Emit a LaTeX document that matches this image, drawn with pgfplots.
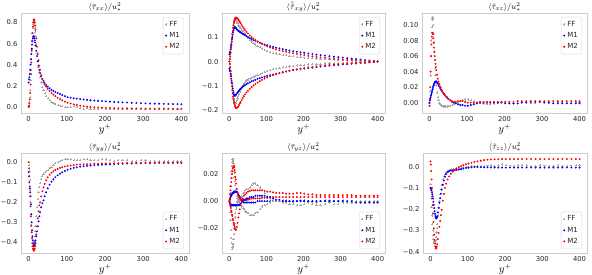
\documentclass[border=0pt]{standalone}
\usepackage{fontspec}
\setmainfont{DejaVu Sans}
\usepackage{pgfplots}
\usepackage{pgfplotstable}
\pgfplotsset{compat=1.18}

\pgfplotstableread{
y ff m1 m2
0 0.00 0.23 0.00
1 0.01 0.26 0.01
2 0.04 0.28 0.03
3 0.09 0.31 0.07
4 0.16 0.35 0.13
5 0.25 0.40 0.21
6 0.35 0.45 0.31
7 0.45 0.50 0.42
8 0.55 0.55 0.53
9 0.63 0.59 0.62
10 0.70 0.62 0.70
11 0.75 0.65 0.76
12 0.78 0.665 0.80
13 0.80 0.67 0.825
14 0.80 0.665 0.83
15 0.78 0.65 0.82
16 0.75 0.63 0.80
17 0.71 0.61 0.77
18 0.67 0.58 0.73
20 0.59 0.53 0.65
22 0.51 0.48 0.57
24 0.44 0.43 0.50
26 0.38 0.39 0.44
28 0.33 0.35 0.39
30 0.28 0.32 0.35
33 0.23 0.29 0.30
36 0.19 0.265 0.26
39 0.16 0.245 0.23
42 0.13 0.225 0.21
46 0.10 0.205 0.19
50 0.08 0.19 0.17
55 0.06 0.175 0.15
60 0.045 0.16 0.13
65 0.035 0.15 0.115
70 0.025 0.14 0.10
76 0.015 0.13 0.085
82 0.01 0.12 0.072
88 0.005 0.11 0.06
95 0.0 0.10 0.048
102 -0.005 0.09 0.038
110 0.0 0.085 0.03
118 0.005 0.08 0.022
126 -0.005 0.076 0.016
135 -0.015 0.072 0.01
144 -0.02 0.068 0.005
153 -0.015 0.064 0.0
162 -0.02 0.061 -0.003
172 -0.025 0.058 -0.006
182 -0.02 0.055 -0.008
192 -0.015 0.053 -0.01
202 -0.02 0.05 -0.012
213 -0.025 0.047 -0.013
224 -0.02 0.045 -0.014
235 -0.02 0.043 -0.015
246 -0.025 0.041 -0.016
258 -0.02 0.039 -0.016
270 -0.02 0.037 -0.017
282 -0.025 0.035 -0.017
294 -0.02 0.033 -0.018
306 -0.02 0.031 -0.018
318 -0.02 0.03 -0.018
330 -0.02 0.029 -0.019
342 -0.02 0.028 -0.019
354 -0.02 0.027 -0.019
366 -0.02 0.026 -0.02
378 -0.02 0.025 -0.02
390 -0.02 0.024 -0.02
400 -0.02 0.023 -0.02
}\tA

\pgfplotstableread{
y ffa m1a m2a ffb m1b m2b
0 0.000 0.030 0.000 0.000 -0.030 0.000
1 0.010 0.035 0.010 -0.010 -0.035 -0.010
2 0.025 0.040 0.020 -0.025 -0.040 -0.022
3 0.040 0.050 0.035 -0.040 -0.050 -0.038
4 0.055 0.060 0.050 -0.055 -0.060 -0.054
5 0.070 0.070 0.065 -0.070 -0.070 -0.070
6 0.085 0.080 0.080 -0.086 -0.080 -0.086
7 0.100 0.090 0.095 -0.102 -0.090 -0.102
8 0.115 0.100 0.110 -0.117 -0.100 -0.117
9 0.130 0.110 0.125 -0.130 -0.110 -0.131
10 0.140 0.120 0.138 -0.141 -0.120 -0.144
11 0.150 0.128 0.149 -0.150 -0.128 -0.155
12 0.160 0.134 0.158 -0.158 -0.134 -0.164
13 0.165 0.138 0.165 -0.164 -0.138 -0.171
14 0.170 0.140 0.171 -0.168 -0.140 -0.177
15 0.172 0.141 0.175 -0.170 -0.140 -0.182
16 0.172 0.140 0.178 -0.170 -0.139 -0.186
17 0.170 0.138 0.180 -0.168 -0.137 -0.189
18 0.168 0.136 0.180 -0.165 -0.135 -0.190
20 0.163 0.132 0.179 -0.158 -0.131 -0.190
22 0.157 0.129 0.176 -0.150 -0.127 -0.188
24 0.151 0.126 0.172 -0.141 -0.123 -0.184
26 0.146 0.124 0.167 -0.132 -0.119 -0.178
28 0.141 0.122 0.162 -0.123 -0.115 -0.172
30 0.136 0.120 0.157 -0.115 -0.112 -0.166
33 0.130 0.117 0.150 -0.105 -0.108 -0.158
36 0.124 0.114 0.143 -0.097 -0.104 -0.150
39 0.118 0.111 0.136 -0.090 -0.100 -0.142
42 0.112 0.108 0.130 -0.084 -0.097 -0.135
46 0.104 0.104 0.122 -0.078 -0.093 -0.127
50 0.097 0.100 0.115 -0.074 -0.089 -0.120
55 0.089 0.096 0.107 -0.070 -0.085 -0.112
60 0.082 0.092 0.100 -0.066 -0.081 -0.105
65 0.076 0.088 0.094 -0.062 -0.078 -0.098
70 0.070 0.085 0.088 -0.058 -0.075 -0.092
76 0.064 0.081 0.082 -0.054 -0.071 -0.086
82 0.058 0.077 0.077 -0.050 -0.068 -0.080
88 0.053 0.074 0.072 -0.046 -0.065 -0.075
95 0.048 0.070 0.067 -0.042 -0.062 -0.070
102 0.044 0.067 0.062 -0.038 -0.059 -0.065
110 0.040 0.063 0.058 -0.035 -0.056 -0.060
118 0.036 0.060 0.054 -0.032 -0.053 -0.056
126 0.033 0.057 0.050 -0.029 -0.050 -0.052
135 0.030 0.054 0.046 -0.026 -0.047 -0.048
144 0.028 0.051 0.043 -0.024 -0.044 -0.044
153 0.026 0.048 0.040 -0.022 -0.041 -0.041
162 0.024 0.045 0.037 -0.020 -0.038 -0.038
172 0.022 0.042 0.034 -0.018 -0.035 -0.035
182 0.020 0.040 0.031 -0.016 -0.033 -0.032
192 0.018 0.038 0.028 -0.015 -0.031 -0.029
202 0.016 0.036 0.026 -0.013 -0.029 -0.027
213 0.015 0.033 0.023 -0.012 -0.027 -0.024
224 0.013 0.031 0.021 -0.011 -0.025 -0.022
235 0.012 0.028 0.019 -0.010 -0.023 -0.020
246 0.011 0.026 0.017 -0.009 -0.021 -0.018
258 0.010 0.024 0.015 -0.008 -0.019 -0.016
270 0.009 0.022 0.013 -0.007 -0.017 -0.014
282 0.008 0.020 0.011 -0.006 -0.015 -0.012
294 0.007 0.018 0.010 -0.005 -0.014 -0.011
306 0.006 0.016 0.008 -0.005 -0.012 -0.009
318 0.005 0.014 0.007 -0.004 -0.011 -0.008
330 0.004 0.012 0.006 -0.003 -0.009 -0.007
342 0.003 0.010 0.005 -0.003 -0.008 -0.006
354 0.002 0.008 0.004 -0.002 -0.006 -0.005
366 0.002 0.006 0.003 -0.002 -0.005 -0.004
378 0.001 0.004 0.002 -0.001 -0.003 -0.003
390 0.001 0.002 0.001 -0.001 -0.002 -0.002
400 0.000 0.000 0.000 0.000 0.000 0.000
}\tB

\pgfplotstableread{
y ff m1 m2
0 0.000 0.000 -0.004
1 0.005 0.003 0.005
2 0.015 0.005 0.020
3 0.035 0.007 0.040
4 0.060 0.009 0.060
5 0.080 0.011 0.075
6 0.097 0.013 0.085
7 0.107 0.015 0.090
8 0.110 0.017 0.090
9 0.108 0.019 0.088
10 0.100 0.021 0.083
11 0.090 0.022 0.077
12 0.078 0.024 0.071
13 0.066 0.025 0.065
14 0.055 0.026 0.060
15 0.045 0.027 0.055
16 0.036 0.027 0.050
17 0.028 0.027 0.046
18 0.022 0.027 0.042
20 0.013 0.026 0.036
22 0.007 0.025 0.031
24 0.003 0.023 0.027
26 0.000 0.021 0.024
28 -0.002 0.019 0.021
30 -0.003 0.017 0.019
33 -0.004 0.015 0.016
36 -0.005 0.013 0.013
39 -0.005 0.011 0.011
42 -0.005 0.009 0.009
46 -0.005 0.007 0.007
50 -0.004 0.005 0.005
55 -0.004 0.003 0.003
60 -0.003 0.001 0.002
65 -0.002 0.000 0.001
70 0.000 -0.001 0.001
76 0.001 -0.002 0.002
82 0.002 -0.003 0.002
88 0.003 -0.003 0.002
95 0.004 -0.004 0.001
102 0.004 -0.004 0.000
110 0.003 -0.003 0.000
118 0.002 -0.002 0.000
126 0.001 -0.001 0.000
135 0.000 0.000 0.001
144 -0.001 0.000 0.001
153 -0.002 0.000 0.001
162 -0.002 0.000 0.001
172 -0.001 0.000 0.001
182 0.000 0.000 0.001
192 0.001 0.000 0.001
202 0.001 -0.001 0.001
213 0.000 -0.001 0.001
224 -0.001 -0.001 0.001
235 0.000 -0.001 0.002
246 0.001 0.000 0.002
258 0.001 0.000 0.002
270 0.000 0.001 0.002
282 0.000 0.001 0.002
294 0.001 0.001 0.002
306 0.001 0.000 0.002
318 0.000 0.000 0.002
330 0.000 -0.001 0.002
342 0.001 -0.001 0.002
354 0.001 -0.001 0.002
366 0.000 -0.001 0.002
378 0.000 -0.001 0.002
390 0.001 -0.001 0.002
400 0.001 -0.001 0.002
}\tC

\pgfplotstableread{
y ff m1 m2
0 0.000 -0.050 0.000
1 -0.015 -0.070 -0.030
2 -0.045 -0.100 -0.070
3 -0.090 -0.130 -0.120
4 -0.140 -0.150 -0.170
5 -0.200 -0.170 -0.220
6 -0.260 -0.210 -0.270
7 -0.320 -0.260 -0.315
8 -0.380 -0.300 -0.350
9 -0.405 -0.340 -0.380
10 -0.420 -0.370 -0.405
11 -0.430 -0.390 -0.420
12 -0.435 -0.405 -0.432
13 -0.430 -0.415 -0.440
14 -0.415 -0.420 -0.442
15 -0.395 -0.418 -0.440
16 -0.370 -0.410 -0.432
17 -0.345 -0.400 -0.420
18 -0.320 -0.390 -0.405
20 -0.270 -0.370 -0.360
22 -0.225 -0.345 -0.320
24 -0.185 -0.320 -0.280
26 -0.150 -0.295 -0.245
28 -0.125 -0.270 -0.215
30 -0.105 -0.250 -0.200
33 -0.085 -0.225 -0.170
36 -0.070 -0.205 -0.145
39 -0.058 -0.190 -0.125
42 -0.050 -0.170 -0.108
46 -0.043 -0.150 -0.090
50 -0.037 -0.130 -0.075
55 -0.030 -0.112 -0.062
60 -0.022 -0.097 -0.052
65 -0.013 -0.085 -0.044
70 -0.005 -0.075 -0.038
76 0.002 -0.065 -0.033
82 0.008 -0.057 -0.028
88 0.012 -0.050 -0.025
95 0.016 -0.043 -0.021
102 0.017 -0.037 -0.018
110 0.015 -0.032 -0.016
118 0.012 -0.028 -0.014
126 0.010 -0.025 -0.012
135 0.012 -0.022 -0.011
144 0.015 -0.020 -0.010
153 0.016 -0.018 -0.009
162 0.013 -0.016 -0.008
172 0.010 -0.014 -0.007
182 0.011 -0.013 -0.007
192 0.015 -0.012 -0.006
202 0.014 -0.011 -0.006
213 0.010 -0.010 -0.005
224 0.008 -0.009 -0.005
235 0.011 -0.008 -0.005
246 0.013 -0.007 -0.004
258 0.010 -0.006 -0.004
270 0.006 -0.006 -0.004
282 0.007 -0.005 -0.003
294 0.010 -0.005 -0.003
306 0.009 -0.004 -0.003
318 0.006 -0.004 -0.003
330 0.004 -0.004 -0.003
342 0.006 -0.003 -0.002
354 0.007 -0.003 -0.002
366 0.005 -0.003 -0.002
378 0.004 -0.003 -0.002
390 0.006 -0.003 -0.002
400 0.007 -0.003 -0.002
}\tD

\pgfplotstableread{
y ffa ffb m1a m1b m2a m2b
0 0.000 0.000 0.000 0.000 0.000 0.000
1 0.002 -0.003 0.001 -0.001 0.002 -0.001
2 0.006 -0.008 0.002 -0.002 0.005 -0.002
3 0.011 -0.014 0.003 -0.002 0.008 -0.004
4 0.017 -0.021 0.004 -0.003 0.011 -0.005
5 0.022 -0.027 0.004 -0.003 0.014 -0.007
6 0.026 -0.031 0.005 -0.003 0.017 -0.008
7 0.029 -0.034 0.005 -0.003 0.020 -0.010
8 0.031 -0.035 0.006 -0.003 0.022 -0.011
9 0.031 -0.034 0.006 -0.003 0.024 -0.013
10 0.030 -0.032 0.006 -0.003 0.025 -0.014
11 0.028 -0.028 0.006 -0.003 0.026 -0.016
12 0.025 -0.024 0.007 -0.003 0.026 -0.017
13 0.022 -0.020 0.007 -0.003 0.025 -0.018
14 0.018 -0.016 0.007 -0.003 0.023 -0.019
15 0.015 -0.012 0.007 -0.003 0.021 -0.020
16 0.012 -0.009 0.007 -0.003 0.018 -0.021
17 0.009 -0.006 0.007 -0.003 0.016 -0.021
18 0.007 -0.004 0.007 -0.003 0.013 -0.021
20 0.004 -0.001 0.007 -0.003 0.009 -0.019
22 0.002 0.000 0.006 -0.003 0.006 -0.016
24 0.001 0.000 0.005 -0.003 0.004 -0.012
26 0.001 -0.001 0.004 -0.003 0.003 -0.009
28 0.002 -0.002 0.003 -0.003 0.002 -0.006
30 0.003 -0.003 0.002 -0.002 0.001 -0.003
33 0.004 -0.004 0.001 -0.001 0.001 0.000
36 0.006 -0.005 0.000 0.000 0.001 0.002
39 0.007 -0.006 -0.001 0.001 0.001 0.004
42 0.008 -0.007 -0.001 0.001 0.001 0.005
46 0.009 -0.008 -0.001 0.002 0.001 0.006
50 0.009 -0.009 -0.001 0.002 0.001 0.007
55 0.010 -0.010 -0.001 0.003 0.0015 0.0075
60 0.012 -0.010 -0.001 0.003 0.002 0.008
65 0.013 -0.010 -0.001 0.003 0.002 0.008
70 0.013 -0.009 -0.001 0.004 0.002 0.008
76 0.012 -0.008 0.000 0.004 0.002 0.008
82 0.010 -0.006 0.000 0.004 0.002 0.008
88 0.008 -0.004 0.000 0.004 0.0025 0.008
95 0.006 -0.003 0.000 0.004 0.0025 0.0075
102 0.004 -0.002 0.000 0.003 0.0025 0.007
110 0.002 -0.001 0.000 0.003 0.003 0.007
118 0.001 0.000 0.000 0.002 0.003 0.0065
126 0.000 0.000 0.000 0.001 0.003 0.006
135 0.000 0.000 0.000 0.001 0.003 0.006
144 0.001 -0.001 0.000 0.000 0.003 0.006
153 0.001 -0.001 0.000 0.000 0.003 0.0055
162 0.000 -0.002 0.000 0.000 0.003 0.0055
172 -0.001 -0.002 0.000 0.000 0.003 0.0055
182 0.000 -0.003 0.000 0.000 0.003 0.006
192 0.001 -0.003 0.000 0.000 0.003 0.006
202 0.001 -0.002 0.000 0.000 0.003 0.0055
213 0.000 -0.001 0.000 0.000 0.003 0.005
224 -0.001 -0.002 0.000 0.000 0.003 0.005
235 -0.001 -0.003 0.000 0.000 0.003 0.0045
246 0.000 -0.003 0.000 0.000 0.003 0.0045
258 0.001 -0.002 0.000 0.000 0.003 0.0045
270 0.001 -0.001 0.000 0.000 0.003 0.0045
282 0.000 -0.002 0.000 0.000 0.003 0.0045
294 0.000 -0.002 0.000 0.000 0.003 0.0045
306 0.001 -0.001 0.000 0.000 0.003 0.0045
318 0.000 -0.001 -0.001 0.000 0.003 0.0045
330 0.000 -0.001 -0.001 0.000 0.003 0.0045
342 0.000 -0.001 -0.001 -0.001 0.003 0.004
354 0.000 -0.001 -0.001 -0.001 0.003 0.004
366 0.000 -0.001 -0.001 -0.001 0.003 0.004
378 0.000 -0.001 -0.001 -0.001 0.003 0.004
390 0.000 -0.001 -0.001 -0.001 0.003 0.004
400 0.000 -0.001 -0.001 -0.001 0.003 0.004
}\tE

\pgfplotstableread{
y ff m1 m2
0 -0.080 -0.100 0.025
1 -0.110 -0.100 0.010
2 -0.150 -0.105 -0.020
3 -0.190 -0.110 -0.060
4 -0.230 -0.120 -0.100
5 -0.270 -0.130 -0.140
6 -0.300 -0.140 -0.180
7 -0.320 -0.150 -0.220
8 -0.340 -0.165 -0.260
9 -0.350 -0.180 -0.290
10 -0.355 -0.195 -0.320
11 -0.360 -0.210 -0.345
12 -0.360 -0.222 -0.362
13 -0.355 -0.232 -0.375
14 -0.345 -0.238 -0.382
15 -0.330 -0.242 -0.385
16 -0.310 -0.243 -0.383
17 -0.290 -0.240 -0.376
18 -0.270 -0.233 -0.365
20 -0.230 -0.215 -0.340
22 -0.195 -0.193 -0.312
24 -0.160 -0.170 -0.283
26 -0.130 -0.148 -0.255
28 -0.105 -0.127 -0.228
30 -0.085 -0.108 -0.203
33 -0.060 -0.085 -0.160
36 -0.045 -0.065 -0.128
39 -0.033 -0.048 -0.100
42 -0.025 -0.035 -0.080
46 -0.019 -0.026 -0.060
50 -0.015 -0.021 -0.046
55 -0.013 -0.018 -0.033
60 -0.012 -0.017 -0.023
65 -0.011 -0.016 -0.015
70 -0.010 -0.015 -0.008
76 -0.008 -0.014 -0.002
82 -0.006 -0.012 0.003
88 -0.004 -0.009 0.007
95 -0.002 -0.006 0.011
102 0.000 -0.005 0.015
110 0.002 -0.003 0.018
118 0.004 -0.002 0.022
126 0.003 -0.002 0.025
135 0.001 -0.002 0.028
144 0.002 -0.003 0.031
153 0.005 -0.003 0.033
162 0.006 -0.004 0.034
172 0.004 -0.004 0.035
182 0.006 -0.004 0.035
192 0.010 -0.004 0.036
202 0.008 -0.004 0.036
213 0.005 -0.004 0.036
224 0.004 -0.004 0.036
235 0.006 -0.004 0.036
246 0.008 -0.004 0.036
258 0.006 -0.004 0.036
270 0.003 -0.004 0.036
282 0.004 -0.004 0.036
294 0.006 -0.004 0.036
306 0.005 -0.004 0.036
318 0.003 -0.004 0.036
330 0.004 -0.004 0.036
342 0.006 -0.004 0.036
354 0.004 -0.004 0.036
366 0.003 -0.004 0.036
378 0.005 -0.004 0.036
390 0.007 -0.004 0.036
400 0.006 -0.004 0.036
}\tF

\pgfplotsset{
  every axis title shift=0pt,
  panel/.style={
    scale only axis, anchor=south west, height=100pt,
    xmin=-20, xmax=420, scaled y ticks=false, scaled x ticks=false,
    xtick={0,100,200,300,400}, xticklabels={0,100,200,300,400},
    axis line style={black!20},
    major tick length=0pt,
    tick label style={font=\fontsize{6.8}{7}\selectfont, text=black!85},
    title style={font=\fontsize{8.5}{9}\selectfont, at={(0.5,1)}, anchor=south, inner sep=1pt},
    xlabel={$y^+$},
    xlabel style={font=\fontsize{10.5}{10.5}\selectfont, inner sep=0pt, yshift=1.5pt},
    legend cell align=left,
    legend style={draw=black!15, rounded corners=1.5pt, font=\fontsize{7}{7.5}\selectfont,
      inner sep=2pt, row sep=0.5pt, text=black!85},
  },
  legUR/.style={legend style={at={(0.97,0.96)}, anchor=north east}},
  legLR/.style={legend style={at={(0.97,0.04)}, anchor=south east}},
  ff/.style={only marks, mark=+, mark size=1.1pt, color=black!35, line width=0.3pt},
  mo/.style={only marks, mark=*, mark size=0.75pt, color=blue},
  mt/.style={only marks, mark=*, mark size=0.75pt, color=red},
}

\begin{document}
\begin{tikzpicture}
\useasboundingbox (0,0) rectangle (592pt,275pt);

\begin{axis}[panel, legUR, at={(21pt,162pt)}, width=168pt,
  ymin=-0.06, ymax=0.89,
  ytick={0,0.2,0.4,0.6,0.8}, yticklabels={0.0,0.2,0.4,0.6,0.8},
  title={$\langle\bar{\tau}_{xx}\rangle/u_*^2$}]
\addplot[ff] table[x=y,y=ff]{\tA}; \addlegendentry{FF}
\addplot[mo] table[x=y,y=m1]{\tA}; \addlegendentry{M1}
\addplot[mt] table[x=y,y=m2]{\tA}; \addlegendentry{M2}
\end{axis}

\begin{axis}[panel, legUR, at={(222pt,162pt)}, width=163pt,
  ymin=-0.211, ymax=0.199,
  ytick={-0.2,-0.1,0,0.1}, yticklabels={−0.2,−0.1,0.0,0.1},
  title={$\langle\tilde{\tilde{\tau}}_{xy}\rangle/u_*^2$}]
\addplot[ff] table[x=y,y=ffa]{\tB}; \addlegendentry{FF}
\addplot[mo] table[x=y,y=m1a]{\tB}; \addlegendentry{M1}
\addplot[mt] table[x=y,y=m2a]{\tB}; \addlegendentry{M2}
\addplot[ff, forget plot] table[x=y,y=ffb]{\tB};
\addplot[mo, forget plot] table[x=y,y=m1b]{\tB};
\addplot[mt, forget plot] table[x=y,y=m2b]{\tB};
\end{axis}

\begin{axis}[panel, legUR, at={(422pt,162pt)}, width=165pt,
  ymin=-0.0133, ymax=0.1155,
  ytick={0,0.02,0.04,0.06,0.08,0.10}, yticklabels={0.00,0.02,0.04,0.06,0.08,0.10},
  title={$\langle\tilde{\tau}_{xz}\rangle/u_*^2$}]
\addplot[ff] table[x=y,y=ff]{\tC}; \addlegendentry{FF}
\addplot[mo] table[x=y,y=m1]{\tC}; \addlegendentry{M1}
\addplot[mt] table[x=y,y=m2]{\tC}; \addlegendentry{M2}
\end{axis}

\begin{axis}[panel, legLR, at={(21pt,22pt)}, width=168pt,
  ymin=-0.4535, ymax=0.0465,
  ytick={-0.4,-0.3,-0.2,-0.1,0}, yticklabels={−0.4,−0.3,−0.2,−0.1,0.0},
  title={$\langle\bar{\tau}_{yy}\rangle/u_*^2$}]
\addplot[ff] table[x=y,y=ff]{\tD}; \addlegendentry{FF}
\addplot[mo] table[x=y,y=m1]{\tD}; \addlegendentry{M1}
\addplot[mt] table[x=y,y=m2]{\tD}; \addlegendentry{M2}
\end{axis}

\begin{axis}[panel, legLR, at={(222pt,22pt)}, width=163pt,
  ymin=-0.0382, ymax=0.0355,
  ytick={-0.02,0,0.02}, yticklabels={−0.02,0.00,0.02},
  title={$\langle\bar{\tau}_{yz}\rangle/u_*^2$}]
\addplot[ff] table[x=y,y=ffa]{\tE}; \addlegendentry{FF}
\addplot[mo] table[x=y,y=m1a]{\tE}; \addlegendentry{M1}
\addplot[mt] table[x=y,y=m2a]{\tE}; \addlegendentry{M2}
\addplot[ff, forget plot] table[x=y,y=ffb]{\tE};
\addplot[mo, forget plot] table[x=y,y=m1b]{\tE};
\addplot[mt, forget plot] table[x=y,y=m2b]{\tE};
\end{axis}

\begin{axis}[panel, legLR, at={(423pt,22pt)}, width=164pt,
  ymin=-0.406, ymax=0.0645,
  ytick={-0.4,-0.3,-0.2,-0.1,0}, yticklabels={−0.4,−0.3,−0.2,−0.1,0.0},
  title={$\langle\tilde{\tau}_{zz}\rangle/u_*^2$}]
\addplot[ff] table[x=y,y=ff]{\tF}; \addlegendentry{FF}
\addplot[mo] table[x=y,y=m1]{\tF}; \addlegendentry{M1}
\addplot[mt] table[x=y,y=m2]{\tF}; \addlegendentry{M2}
\end{axis}
\end{tikzpicture}
\end{document}
